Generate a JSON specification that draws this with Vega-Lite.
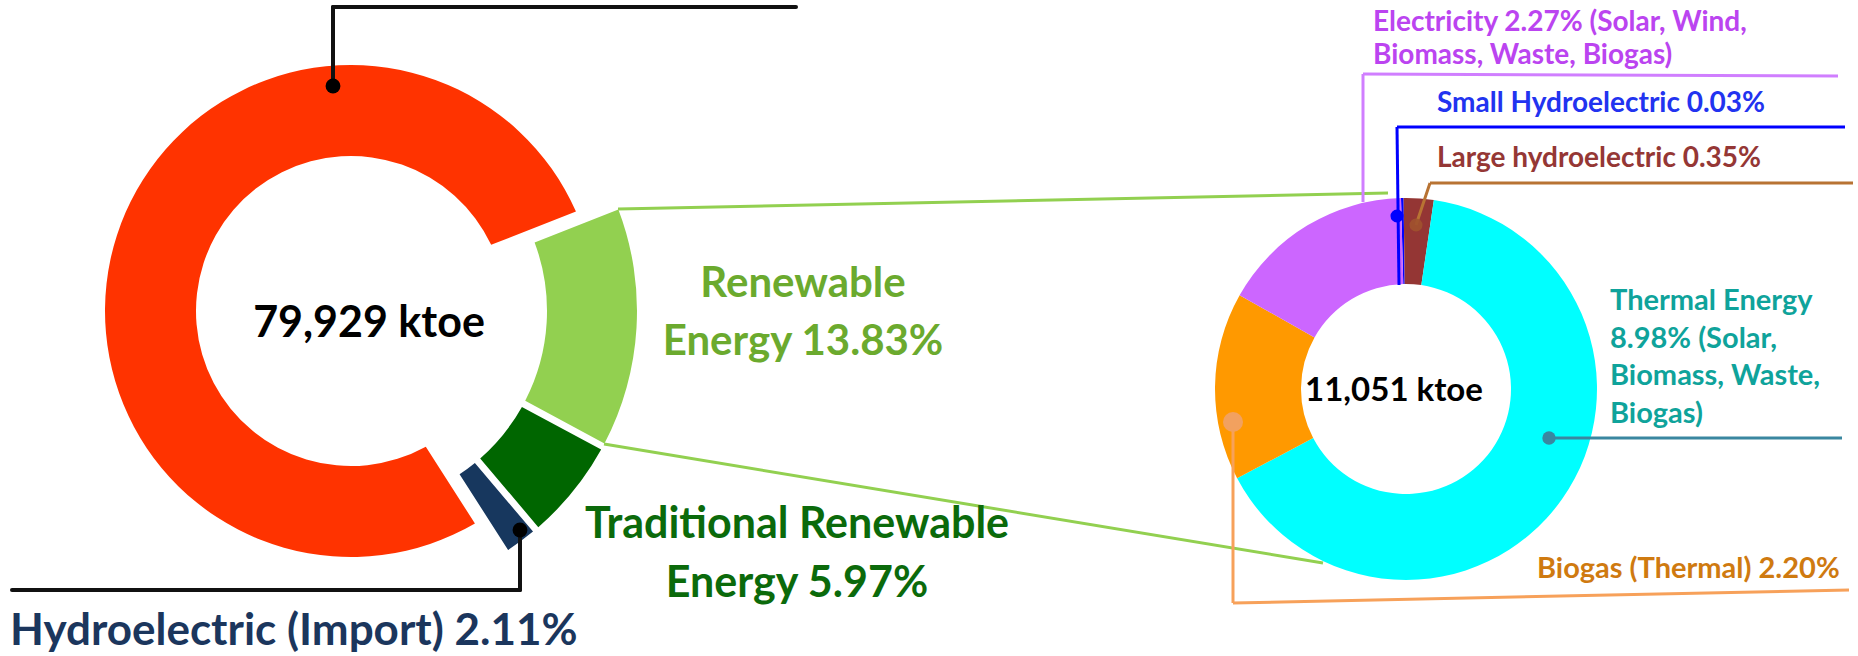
{
"$schema":"https://vega.github.io/schema/vega-lite/v6.json",
"width":1858,"height":656,
"autosize":{"type":"fit","contains":"padding"},
"padding":0,
"background":"#ffffff",
"config":{"view":{"stroke":null},"text":{"font":"Lato","fontWeight":"bold"}},
"datasets":{
 "left":[{"name":"Renewable Energy","pct":13.83},{"name":"Traditional Renewable Energy","pct":5.97},{"name":"Hydroelectric (Import)","pct":2.11},{"name":"Commercial Energy","pct":78.09}],
 "right":[{"name":"Small Hydroelectric","pct":0.03},{"name":"Large Hydroelectric","pct":0.35},{"name":"Thermal Energy","pct":8.98},{"name":"Biogas (Thermal)","pct":2.20},{"name":"Electricity","pct":2.27}]
},
"data":{"values":[{}]},
"resolve":{"scale":{"theta":"independent"}},
"layer":[
{"mark":{"type":"rule","color":"#92D050","strokeWidth":3},"encoding":{"x":{"datum":618,"type":"quantitative","scale":{"domain":[0,1858],"nice":false,"zero":false},"axis":null},"y":{"datum":209,"type":"quantitative","scale":{"domain":[0,656],"nice":false,"zero":false,"reverse":true},"axis":null},"x2":{"datum":1388},"y2":{"datum":193}}},
{"mark":{"type":"rule","color":"#92D050","strokeWidth":3},"encoding":{"x":{"datum":604,"type":"quantitative","scale":{"domain":[0,1858],"nice":false,"zero":false},"axis":null},"y":{"datum":444,"type":"quantitative","scale":{"domain":[0,656],"nice":false,"zero":false,"reverse":true},"axis":null},"x2":{"datum":1323},"y2":{"datum":563}}},
{"data":{"name":"left"},
 "transform":[{"stack":"pct","groupby":[],"as":["t0","t1"]},{"filter":"datum.name === 'Commercial Energy'"}],
 "mark":{"type":"arc","radius":246,"radius2":155,"padAngle":0.07},
 "encoding":{
  "x":{"datum":351,"type":"quantitative","stack":null,"scale":{"domain":[0,1858],"nice":false,"zero":false},"axis":null},
  "y":{"datum":311,"type":"quantitative","stack":null,"scale":{"domain":[0,656],"nice":false,"zero":false,"reverse":true},"axis":null},
  "theta":{"field":"t0","type":"quantitative","scale":{"domain":[0,100],"range":[1.1956,7.4788]}},
  "theta2":{"field":"t1"},
  "color":{"field":"name","type":"nominal","legend":null,"scale":{"domain":["Commercial Energy","Renewable Energy","Traditional Renewable Energy","Hydroelectric (Import)","Small Hydroelectric","Large Hydroelectric","Thermal Energy","Biogas (Thermal)","Electricity"],"range":["#FF3300","#92D050","#006600","#17375E","#0000FF","#943634","#00FFFF","#FF9900","#CC66FF"]}}
 }},
{"data":{"name":"left"},
 "transform":[{"stack":"pct","groupby":[],"as":["t0","t1"]},{"filter":"datum.name !== 'Commercial Energy'"}],
 "mark":{"type":"arc","radius":286,"radius2":196,"padAngle":0.02},
 "encoding":{
  "x":{"datum":351,"type":"quantitative","stack":null,"scale":{"domain":[0,1858],"nice":false,"zero":false},"axis":null},
  "y":{"datum":311,"type":"quantitative","stack":null,"scale":{"domain":[0,656],"nice":false,"zero":false,"reverse":true},"axis":null},
  "theta":{"field":"t0","type":"quantitative","scale":{"domain":[0,100],"range":[1.1956,7.4788]}},
  "theta2":{"field":"t1"},
  "color":{"field":"name","type":"nominal","legend":null,"scale":{"domain":["Commercial Energy","Renewable Energy","Traditional Renewable Energy","Hydroelectric (Import)","Small Hydroelectric","Large Hydroelectric","Thermal Energy","Biogas (Thermal)","Electricity"],"range":["#FF3300","#92D050","#006600","#17375E","#0000FF","#943634","#00FFFF","#FF9900","#CC66FF"]}}
 }},
{"data":{"name":"right"},
 "transform":[{"stack":"pct","groupby":[],"as":["t0","t1"]}],
 "mark":{"type":"arc","radius":191,"radius2":105},
 "encoding":{
  "x":{"datum":1406,"type":"quantitative","stack":null,"scale":{"domain":[0,1858],"nice":false,"zero":false},"axis":null},
  "y":{"datum":389,"type":"quantitative","stack":null,"scale":{"domain":[0,656],"nice":false,"zero":false,"reverse":true},"axis":null},
  "theta":{"field":"t0","type":"quantitative","scale":{"domain":[0,13.83],"range":[-0.0262,6.2570]}},
  "theta2":{"field":"t1"},
  "color":{"field":"name","type":"nominal","legend":null,"scale":{"domain":["Commercial Energy","Renewable Energy","Traditional Renewable Energy","Hydroelectric (Import)","Small Hydroelectric","Large Hydroelectric","Thermal Energy","Biogas (Thermal)","Electricity"],"range":["#FF3300","#92D050","#006600","#17375E","#0000FF","#943634","#00FFFF","#FF9900","#CC66FF"]}}
 }},
{"mark":{"type":"rule","color":"#111111","strokeWidth":4,"strokeCap":"round"},"encoding":{"x":{"datum":333,"type":"quantitative","scale":{"domain":[0,1858],"nice":false,"zero":false},"axis":null},"y":{"datum":7,"type":"quantitative","scale":{"domain":[0,656],"nice":false,"zero":false,"reverse":true},"axis":null},"x2":{"datum":333},"y2":{"datum":86}}},
{"mark":{"type":"rule","color":"#111111","strokeWidth":4,"strokeCap":"round"},"encoding":{"x":{"datum":333,"type":"quantitative","scale":{"domain":[0,1858],"nice":false,"zero":false},"axis":null},"y":{"datum":7,"type":"quantitative","scale":{"domain":[0,656],"nice":false,"zero":false,"reverse":true},"axis":null},"x2":{"datum":796},"y2":{"datum":7}}},
{"mark":{"type":"circle","color":"#000000","opacity":1,"size":220},"encoding":{"x":{"datum":333,"type":"quantitative","scale":{"domain":[0,1858],"nice":false,"zero":false},"axis":null},"y":{"datum":86,"type":"quantitative","scale":{"domain":[0,656],"nice":false,"zero":false,"reverse":true},"axis":null}}},
{"mark":{"type":"rule","color":"#111111","strokeWidth":4,"strokeCap":"round"},"encoding":{"x":{"datum":520,"type":"quantitative","scale":{"domain":[0,1858],"nice":false,"zero":false},"axis":null},"y":{"datum":530,"type":"quantitative","scale":{"domain":[0,656],"nice":false,"zero":false,"reverse":true},"axis":null},"x2":{"datum":520},"y2":{"datum":590}}},
{"mark":{"type":"rule","color":"#111111","strokeWidth":4,"strokeCap":"round"},"encoding":{"x":{"datum":12,"type":"quantitative","scale":{"domain":[0,1858],"nice":false,"zero":false},"axis":null},"y":{"datum":590,"type":"quantitative","scale":{"domain":[0,656],"nice":false,"zero":false,"reverse":true},"axis":null},"x2":{"datum":520},"y2":{"datum":590}}},
{"mark":{"type":"circle","color":"#000000","opacity":1,"size":220},"encoding":{"x":{"datum":520,"type":"quantitative","scale":{"domain":[0,1858],"nice":false,"zero":false},"axis":null},"y":{"datum":530,"type":"quantitative","scale":{"domain":[0,656],"nice":false,"zero":false,"reverse":true},"axis":null}}},
{"mark":{"type":"rule","color":"#D07EFF","strokeWidth":3},"encoding":{"x":{"datum":1363,"type":"quantitative","scale":{"domain":[0,1858],"nice":false,"zero":false},"axis":null},"y":{"datum":74,"type":"quantitative","scale":{"domain":[0,656],"nice":false,"zero":false,"reverse":true},"axis":null},"x2":{"datum":1363},"y2":{"datum":202}}},
{"mark":{"type":"rule","color":"#D07EFF","strokeWidth":3},"encoding":{"x":{"datum":1363,"type":"quantitative","scale":{"domain":[0,1858],"nice":false,"zero":false},"axis":null},"y":{"datum":74,"type":"quantitative","scale":{"domain":[0,656],"nice":false,"zero":false,"reverse":true},"axis":null},"x2":{"datum":1838},"y2":{"datum":76}}},
{"mark":{"type":"rule","color":"#0000FF","strokeWidth":3},"encoding":{"x":{"datum":1397,"type":"quantitative","scale":{"domain":[0,1858],"nice":false,"zero":false},"axis":null},"y":{"datum":127,"type":"quantitative","scale":{"domain":[0,656],"nice":false,"zero":false,"reverse":true},"axis":null},"x2":{"datum":1399},"y2":{"datum":285}}},
{"mark":{"type":"rule","color":"#0000FF","strokeWidth":3},"encoding":{"x":{"datum":1397,"type":"quantitative","scale":{"domain":[0,1858],"nice":false,"zero":false},"axis":null},"y":{"datum":127,"type":"quantitative","scale":{"domain":[0,656],"nice":false,"zero":false,"reverse":true},"axis":null},"x2":{"datum":1845},"y2":{"datum":127}}},
{"mark":{"type":"circle","color":"#0000FF","opacity":1,"size":170},"encoding":{"x":{"datum":1397,"type":"quantitative","scale":{"domain":[0,1858],"nice":false,"zero":false},"axis":null},"y":{"datum":216,"type":"quantitative","scale":{"domain":[0,656],"nice":false,"zero":false,"reverse":true},"axis":null}}},
{"mark":{"type":"rule","color":"#B87333","strokeWidth":3},"encoding":{"x":{"datum":1430,"type":"quantitative","scale":{"domain":[0,1858],"nice":false,"zero":false},"axis":null},"y":{"datum":183,"type":"quantitative","scale":{"domain":[0,656],"nice":false,"zero":false,"reverse":true},"axis":null},"x2":{"datum":1416},"y2":{"datum":225}}},
{"mark":{"type":"rule","color":"#B87333","strokeWidth":3},"encoding":{"x":{"datum":1430,"type":"quantitative","scale":{"domain":[0,1858],"nice":false,"zero":false},"axis":null},"y":{"datum":183,"type":"quantitative","scale":{"domain":[0,656],"nice":false,"zero":false,"reverse":true},"axis":null},"x2":{"datum":1853},"y2":{"datum":183}}},
{"mark":{"type":"circle","color":"#A0522D","opacity":0.9,"size":170},"encoding":{"x":{"datum":1416,"type":"quantitative","scale":{"domain":[0,1858],"nice":false,"zero":false},"axis":null},"y":{"datum":225,"type":"quantitative","scale":{"domain":[0,656],"nice":false,"zero":false,"reverse":true},"axis":null}}},
{"mark":{"type":"rule","color":"#3A87A0","strokeWidth":3},"encoding":{"x":{"datum":1549,"type":"quantitative","scale":{"domain":[0,1858],"nice":false,"zero":false},"axis":null},"y":{"datum":438,"type":"quantitative","scale":{"domain":[0,656],"nice":false,"zero":false,"reverse":true},"axis":null},"x2":{"datum":1842},"y2":{"datum":438}}},
{"mark":{"type":"circle","color":"#3A87A0","opacity":1,"size":180},"encoding":{"x":{"datum":1549,"type":"quantitative","scale":{"domain":[0,1858],"nice":false,"zero":false},"axis":null},"y":{"datum":438,"type":"quantitative","scale":{"domain":[0,656],"nice":false,"zero":false,"reverse":true},"axis":null}}},
{"mark":{"type":"rule","color":"#F7A15A","strokeWidth":3},"encoding":{"x":{"datum":1233,"type":"quantitative","scale":{"domain":[0,1858],"nice":false,"zero":false},"axis":null},"y":{"datum":422,"type":"quantitative","scale":{"domain":[0,656],"nice":false,"zero":false,"reverse":true},"axis":null},"x2":{"datum":1233},"y2":{"datum":603}}},
{"mark":{"type":"rule","color":"#F7A15A","strokeWidth":3},"encoding":{"x":{"datum":1233,"type":"quantitative","scale":{"domain":[0,1858],"nice":false,"zero":false},"axis":null},"y":{"datum":603,"type":"quantitative","scale":{"domain":[0,656],"nice":false,"zero":false,"reverse":true},"axis":null},"x2":{"datum":1849},"y2":{"datum":590}}},
{"mark":{"type":"circle","color":"#F2A15F","opacity":1,"size":400},"encoding":{"x":{"datum":1233,"type":"quantitative","scale":{"domain":[0,1858],"nice":false,"zero":false},"axis":null},"y":{"datum":422,"type":"quantitative","scale":{"domain":[0,656],"nice":false,"zero":false,"reverse":true},"axis":null}}},
{"mark":{"type":"text","text":"79,929 ktoe","fontSize":43,"align":"center","baseline":"alphabetic","color":"#000000"},"encoding":{"x":{"datum":369,"type":"quantitative","scale":{"domain":[0,1858],"nice":false,"zero":false},"axis":null},"y":{"datum":337,"type":"quantitative","scale":{"domain":[0,656],"nice":false,"zero":false,"reverse":true},"axis":null}}},
{"mark":{"type":"text","text":"11,051 ktoe","fontSize":33,"align":"center","baseline":"alphabetic","color":"#000000"},"encoding":{"x":{"datum":1394,"type":"quantitative","scale":{"domain":[0,1858],"nice":false,"zero":false},"axis":null},"y":{"datum":401,"type":"quantitative","scale":{"domain":[0,656],"nice":false,"zero":false,"reverse":true},"axis":null}}},
{"mark":{"type":"text","text":["Renewable","Energy 13.83%"],"fontSize":42,"lineHeight":58,"align":"center","baseline":"alphabetic","color":"#6BAA2E"},"encoding":{"x":{"datum":803,"type":"quantitative","scale":{"domain":[0,1858],"nice":false,"zero":false},"axis":null},"y":{"datum":297,"type":"quantitative","scale":{"domain":[0,656],"nice":false,"zero":false,"reverse":true},"axis":null}}},
{"mark":{"type":"text","text":["Traditional Renewable","Energy 5.97%"],"fontSize":43,"lineHeight":59,"align":"center","baseline":"alphabetic","color":"#0B6A0B"},"encoding":{"x":{"datum":797,"type":"quantitative","scale":{"domain":[0,1858],"nice":false,"zero":false},"axis":null},"y":{"datum":538,"type":"quantitative","scale":{"domain":[0,656],"nice":false,"zero":false,"reverse":true},"axis":null}}},
{"mark":{"type":"text","text":"Hydroelectric (Import) 2.11%","fontSize":44,"align":"left","baseline":"alphabetic","color":"#1B365D"},"encoding":{"x":{"datum":10,"type":"quantitative","scale":{"domain":[0,1858],"nice":false,"zero":false},"axis":null},"y":{"datum":645,"type":"quantitative","scale":{"domain":[0,656],"nice":false,"zero":false,"reverse":true},"axis":null}}},
{"mark":{"type":"text","text":["Electricity 2.27% (Solar, Wind,","Biomass, Waste, Biogas)"],"fontSize":28,"lineHeight":33,"align":"left","baseline":"alphabetic","color":"#BB44F0"},"encoding":{"x":{"datum":1373,"type":"quantitative","scale":{"domain":[0,1858],"nice":false,"zero":false},"axis":null},"y":{"datum":31,"type":"quantitative","scale":{"domain":[0,656],"nice":false,"zero":false,"reverse":true},"axis":null}}},
{"mark":{"type":"text","text":"Small Hydroelectric 0.03%","fontSize":28,"align":"left","baseline":"alphabetic","color":"#2233F0"},"encoding":{"x":{"datum":1437,"type":"quantitative","scale":{"domain":[0,1858],"nice":false,"zero":false},"axis":null},"y":{"datum":112,"type":"quantitative","scale":{"domain":[0,656],"nice":false,"zero":false,"reverse":true},"axis":null}}},
{"mark":{"type":"text","text":"Large hydroelectric 0.35%","fontSize":28,"align":"left","baseline":"alphabetic","color":"#953735"},"encoding":{"x":{"datum":1437,"type":"quantitative","scale":{"domain":[0,1858],"nice":false,"zero":false},"axis":null},"y":{"datum":167,"type":"quantitative","scale":{"domain":[0,656],"nice":false,"zero":false,"reverse":true},"axis":null}}},
{"mark":{"type":"text","text":["Thermal Energy","8.98% (Solar,","Biomass, Waste,","Biogas)"],"fontSize":29,"lineHeight":37.5,"align":"left","baseline":"alphabetic","color":"#0FA39B"},"encoding":{"x":{"datum":1610,"type":"quantitative","scale":{"domain":[0,1858],"nice":false,"zero":false},"axis":null},"y":{"datum":310,"type":"quantitative","scale":{"domain":[0,656],"nice":false,"zero":false,"reverse":true},"axis":null}}},
{"mark":{"type":"text","text":"Biogas (Thermal) 2.20%","fontSize":29,"align":"left","baseline":"alphabetic","color":"#CF7A10"},"encoding":{"x":{"datum":1537,"type":"quantitative","scale":{"domain":[0,1858],"nice":false,"zero":false},"axis":null},"y":{"datum":578,"type":"quantitative","scale":{"domain":[0,656],"nice":false,"zero":false,"reverse":true},"axis":null}}}
]
}
